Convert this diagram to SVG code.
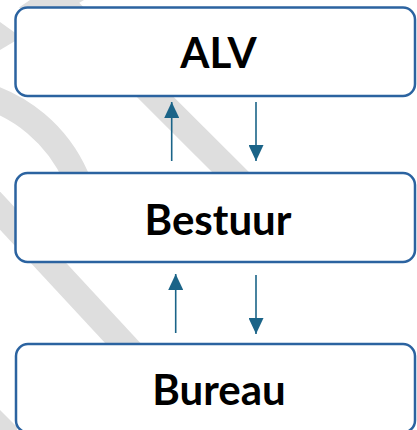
<svg xmlns="http://www.w3.org/2000/svg" width="417" height="430" viewBox="0 0 417 430">
  <style>
    .wm { fill: none; stroke: #dedede; stroke-width: 26; }
    .wmf { fill: #dedede; stroke: none; }
    .box { fill: #ffffff; stroke: #2b63a0; stroke-width: 2.5; }
    .lbl { font-family: Lato, "Open Sans", "Liberation Sans", sans-serif; font-weight: bold; font-size: 42px; fill: #000000; text-anchor: middle; }
    .conn { stroke: #1b6488; stroke-width: 1.6; fill: none; }
  </style>
  <defs>
    <marker id="ah" viewBox="0 0 16 15" refX="16" refY="7.5" markerWidth="16" markerHeight="15" markerUnits="userSpaceOnUse" orient="auto">
      <path d="M0,0 L16,7.5 L0,15 z" fill="#1b6488"/>
    </marker>
  </defs>
  <rect width="417" height="430" fill="#ffffff"/>
  <g id="watermark">
    <path class="wmf" d="M30,0 L84,0 L0,50 L0,22 L28,42 L28,12 L19,7.5 Z"/>
    <path class="wm" d="M-84.6,91.2 A147.5,147.5 0 0 1 88.5,236.5" stroke-width="27"/>
    <line class="wm" x1="38" y1="-20" x2="250" y2="191.5" stroke-width="25"/>
    <line class="wm" x1="-40" y1="167.6" x2="157" y2="380"/>
    <path class="wmf" d="M0,410 L17,427 L17,430 L0,430 Z"/>
  </g>
  <g id="node-alv">
    <rect class="box" x="15.5" y="7.5" width="399.5" height="88.5" rx="12"/>
    <text class="lbl" x="218.5" y="68">ALV</text>
  </g>
  <g id="node-bestuur">
    <rect class="box" x="15.5" y="173" width="399.5" height="89" rx="12"/>
    <text class="lbl" x="218" y="235">Bestuur</text>
  </g>
  <g id="node-bureau">
    <rect class="box" x="16" y="344" width="399" height="88.5" rx="12"/>
    <text class="lbl" x="219" y="405">Bureau</text>
  </g>
  <g id="connectors">
    <line class="conn" x1="171.7" y1="161" x2="171.7" y2="102" marker-end="url(#ah)"/>
    <line class="conn" x1="256" y1="102" x2="256" y2="161" marker-end="url(#ah)"/>
    <line class="conn" x1="175.7" y1="333" x2="175.7" y2="274" marker-end="url(#ah)"/>
    <line class="conn" x1="256" y1="275" x2="256" y2="334" marker-end="url(#ah)"/>
  </g>
</svg>
